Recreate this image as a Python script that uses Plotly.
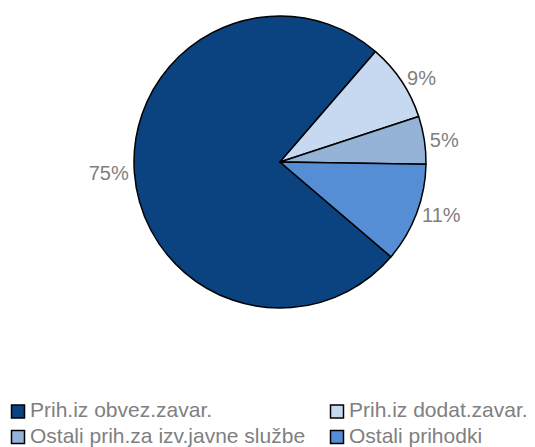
import plotly.graph_objects as go

labels = ["Prih.iz obvez.zavar.", "Prih.iz dodat.zavar.",
          "Ostali prih.za izv.javne službe", "Ostali prihodki"]
values = [75.1, 8.6, 5.3, 11.0]
colors = ["#0B4280", "#C6D9F1", "#95B3D7", "#558ED5"]

W, H = 535, 447
cx, cy, r = 280, 162, 146
FONT = "Liberation Sans, Arial, sans-serif"
GREY = "#808080"

fig = go.Figure(go.Pie(
    labels=labels, values=values, sort=False, direction="clockwise",
    rotation=130.5,
    marker=dict(colors=colors, line=dict(color="black", width=1.5)),
    texttemplate="%{percent:.0%}", textposition="outside",
    textfont=dict(family=FONT, size=20, color=GREY),
    domain=dict(x=[(cx - r) / W, (cx + r) / W], y=[1 - (cy + r) / H, 1 - (cy - r) / H]),
    hoverinfo="label+percent", showlegend=False,
))

# legend laid out as in the original: two columns, two rows
col_x = [18, 337]      # square centres (px)
row_y = [411.5, 437]   # square centres (px)
half = 6.5
shapes, annos = [], []
for i, (lab, colr) in enumerate(zip(labels, colors)):
    row, c = divmod(i, 2)
    x0, y0 = col_x[c], row_y[row]
    shapes.append(dict(type="rect", xref="paper", yref="paper",
                       x0=(x0 - half) / W, x1=(x0 + half) / W,
                       y0=1 - (y0 + half) / H, y1=1 - (y0 - half) / H,
                       fillcolor=colr, line=dict(color="black", width=1.5)))
    annos.append(dict(xref="paper", yref="paper", x=(x0 + 10) / W, y=1 - (y0 - 2) / H,
                      xanchor="left", yanchor="middle", showarrow=False, text=lab,
                      font=dict(family=FONT, size=21, color=GREY)))

fig.update_layout(
    width=W, height=H,
    margin=dict(l=0, r=0, t=0, b=0, autoexpand=False),
    paper_bgcolor="white", plot_bgcolor="white",
    showlegend=False, shapes=shapes, annotations=annos,
)

fig.write_html("out.html", config={"displayModeBar": False},
               post_script="document.body.style.margin='0px';document.body.style.overflow='hidden';")
